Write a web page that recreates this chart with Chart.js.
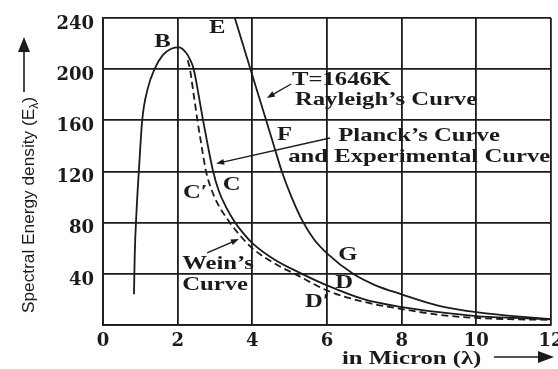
<!DOCTYPE html>
<html>
<head>
<meta charset="utf-8">
<script src="https://cdn.jsdelivr.net/npm/chart.js@4.4.1/dist/chart.umd.min.js"></script>
<style>
  html, body { margin: 0; padding: 0; background: #fff; }
  canvas { display: block; }
</style>
</head>
<body>
<canvas id="c" width="558" height="369"></canvas>
<script>
// Axis ticks
const xTicks = [0, 2, 4, 6, 8, 10, 12];
const yTicks = [0, 40, 80, 120, 160, 200, 240];

// Planck's curve (agrees with the experimental curve), T = 1646 K
const planckX = [0.83, 0.85, 0.9, 0.97, 1.05, 1.2, 1.38, 1.6, 1.83, 2.03, 2.22, 2.34, 2.43, 2.56, 2.68, 2.81, 2.95, 3.1, 3.3, 3.52, 3.75, 4.0, 4.6, 5.33, 6.0, 7.0, 8.0, 9.0, 10.0, 11.0, 12.0];
const planckY = [24, 55, 90, 125, 160, 185, 200, 211, 216, 217, 213, 207, 200, 180, 160, 140, 120, 105, 92, 81, 72, 64, 51, 40, 31, 20, 14, 10, 7, 5.5, 4.5];

// Wein's curve
const weinX = [2.27, 2.33, 2.43, 2.53, 2.64, 2.76, 2.88, 3.05, 3.4, 3.7, 4.0, 4.6, 5.2, 6.0, 7.0, 8.0, 9.0, 10.0, 11.0, 12.0];
const weinY = [207, 200, 180, 160, 140, 120, 108, 96, 80, 69, 60, 48, 39, 27, 18, 12.5, 8, 5.5, 4.5, 4];

// Rayleigh's curve
const rayleighX = [3.53, 3.74, 3.95, 4.16, 4.37, 4.58, 4.79, 5.05, 5.35, 5.65, 6.0, 6.7, 7.3, 8.0, 9.0, 10.0, 11.0, 12.0];
const rayleighY = [240, 220, 200, 180, 160, 140, 120, 100, 81, 67, 56, 40, 31, 24, 15, 10, 7, 4.5];

// Point letters and curve names, placed in data units (left edge, baseline)
const notes = [
  { text: 'B', x: 1.37, y: 217 },
  { text: 'E', x: 2.84, y: 228 },
  { text: 'T=1646K', x: 5.06, y: 187.6 },
  { text: 'Rayleigh\u2019s Curve', x: 5.14, y: 172 },
  { text: 'F', x: 4.66, y: 144.6 },
  { text: 'Planck\u2019s Curve', x: 6.3, y: 143.9 },
  { text: 'and Experimental Curve', x: 4.96, y: 127.4 },
  { text: 'C\u2032', x: 2.14, y: 99.3 },
  { text: 'C', x: 3.21, y: 105.5 },
  { text: 'Wein\u2019s', x: 2.12, y: 43.8 },
  { text: 'Curve', x: 2.12, y: 27.4 },
  { text: 'G', x: 6.3, y: 50.8 },
  { text: 'D', x: 6.22, y: 28.9 },
  { text: 'D\u2032', x: 5.41, y: 14.1 }
];

// Pointers from the curve names to their curves (data units)
const pointers = [
  { from: [5.04, 188.4], to: [4.39, 177.5] },
  { from: [6.08, 146.2], to: [3.03, 126.2] },
  { from: [2.79, 56.3], to: [3.64, 67.2] }
];

const INK = '#1b1b1b';
const SERIF = '"Liberation Serif", "Times New Roman", serif';
const WIDE = 1.3;

function pairs(xs, ys) {
  return xs.map((x, i) => ({ x: x, y: ys[i] }));
}

function wideText(ctx, text, x, y, size) {
  ctx.save();
  ctx.font = 'bold ' + size + 'px ' + SERIF;
  ctx.textAlign = 'left';
  ctx.textBaseline = 'alphabetic';
  ctx.translate(x, y);
  ctx.scale(WIDE, 1);
  ctx.fillText(text, 0, 0);
  ctx.restore();
}

function arrow(ctx, x1, y1, x2, y2, head, half) {
  const a = Math.atan2(y2 - y1, x2 - x1);
  const c = Math.cos(a), s = Math.sin(a);
  ctx.beginPath();
  ctx.moveTo(x1, y1);
  ctx.lineTo(x2 - c * head * 0.7, y2 - s * head * 0.7);
  ctx.stroke();
  ctx.beginPath();
  ctx.moveTo(x2, y2);
  ctx.lineTo(x2 - c * head + s * half, y2 - s * head - c * half);
  ctx.lineTo(x2 - c * head - s * half, y2 - s * head + c * half);
  ctx.closePath();
  ctx.fill();
}

const decorations = {
  id: 'decorations',
  afterDraw(chart) {
    const ctx = chart.ctx;
    const xs = chart.scales.x, ys = chart.scales.y;
    ctx.save();
    ctx.fillStyle = INK;
    ctx.strokeStyle = INK;
    ctx.lineWidth = 1.4;

    notes.forEach(n => {
      wideText(ctx, n.text, xs.getPixelForValue(n.x), ys.getPixelForValue(n.y), 19);
    });

    pointers.forEach(p => {
      arrow(ctx,
        xs.getPixelForValue(p.from[0]), ys.getPixelForValue(p.from[1]),
        xs.getPixelForValue(p.to[0]), ys.getPixelForValue(p.to[1]), 8, 3);
    });

    // x-axis title with arrow
    wideText(ctx, 'in Micron (\u03bb)', 342, 364, 19);
    ctx.lineWidth = 1.6;
    arrow(ctx, 494, 357, 554, 357, 16, 6);

    // y-axis title (rotated) with arrow
    ctx.save();
    ctx.translate(34, 313);
    ctx.rotate(-Math.PI / 2);
    const mainFont = '17px "Liberation Sans", Arial, sans-serif';
    const subFont = '12px "Liberation Sans", Arial, sans-serif';
    const partA = 'Spectral Energy density (E';
    const partB = '\u03bb';
    const partC = ')';
    ctx.font = mainFont;
    const wA = ctx.measureText(partA).width;
    const wC = ctx.measureText(partC).width;
    ctx.font = subFont;
    const wB = ctx.measureText(partB).width;
    const k = 216 / (wA + wB + wC);
    ctx.scale(k, 1);
    ctx.textBaseline = 'alphabetic';
    ctx.textAlign = 'left';
    ctx.font = mainFont;
    ctx.fillText(partA, 0, 0);
    ctx.font = subFont;
    ctx.fillText(partB, wA, 4);
    ctx.font = mainFont;
    ctx.fillText(partC, wA + wB, 0);
    ctx.restore();
    ctx.lineWidth = 1.6;
    arrow(ctx, 24, 92, 24, 37, 15, 6);

    ctx.restore();
  }
};

const tickFont = { family: '"DejaVu Serif", serif', size: 18, weight: 'bold' };

const curveStyle = {
  showLine: true, borderColor: INK, borderWidth: 1.8,
  pointRadius: 0, cubicInterpolationMode: 'monotone', fill: false
};

new Chart(document.getElementById('c').getContext('2d'), {
  type: 'scatter',
  data: {
    datasets: [
      Object.assign({ label: 'Planck', data: pairs(planckX, planckY) }, curveStyle),
      Object.assign({ label: 'Wein', data: pairs(weinX, weinY), borderDash: [7, 4] }, curveStyle),
      Object.assign({ label: 'Rayleigh', data: pairs(rayleighX, rayleighY) }, curveStyle)
    ]
  },
  options: {
    responsive: false,
    animation: false,
    devicePixelRatio: 1,
    layout: { padding: { left: 0, right: 7, top: 18, bottom: 0 } },
    plugins: { legend: { display: false }, tooltip: { enabled: false } },
    scales: {
      x: {
        type: 'linear', min: 0, max: 12,
        afterBuildTicks: s => { s.ticks = xTicks.map(v => ({ value: v })); },
        afterFit: s => { s.height = 44; s.paddingLeft = 0; s.paddingRight = 0; },
        grid: { color: INK, lineWidth: 1.8, drawTicks: false },
        border: { color: INK, width: 1.8 },
        ticks: { color: INK, font: tickFont, padding: 6, maxRotation: 0, autoSkip: false }
      },
      y: {
        type: 'linear', min: 0, max: 240,
        afterBuildTicks: s => { s.ticks = yTicks.map(v => ({ value: v })); },
        afterFit: s => { s.width = 103; s.paddingTop = 0; s.paddingBottom = 0; },
        grid: { color: INK, lineWidth: 1.8, drawTicks: false },
        border: { color: INK, width: 1.8 },
        ticks: {
          color: INK, font: tickFont, padding: 9, labelOffset: 6, autoSkip: false,
          callback: v => (v === 0 ? '' : String(v))
        }
      }
    }
  },
  plugins: [decorations]
});
</script>
</body>
</html>
